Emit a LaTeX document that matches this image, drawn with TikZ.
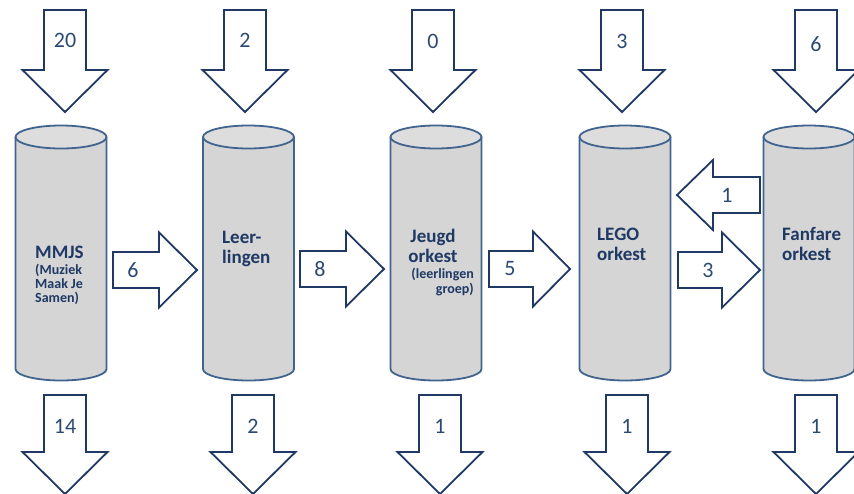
\documentclass[tikz,border=0pt]{standalone}
\usepackage{fontspec}
\setmainfont{Carlito}
\usetikzlibrary{calc}
\definecolor{navy}{HTML}{1F3864}
\definecolor{numcol}{HTML}{2B4A72}
\definecolor{cylline}{HTML}{41648F}
\definecolor{cylfill}{HTML}{D5D5D5}
\definecolor{cyltop}{HTML}{DDDDDD}
\tikzset{
  blockarrow/.style={draw=navy, line width=1.8pt, fill=white, line join=miter},
  cylbody/.style={draw=cylline, line width=1.8pt, fill=cylfill},
  cyltopstyle/.style={draw=cylline, line width=1.8pt, fill=cyltop},
  numlabel/.style={text=numcol, font=\fontsize{22}{24}\selectfont, inner sep=0pt},
  biglabel/.style={text=navy, font=\bfseries\fontsize{19}{20}\selectfont, inner sep=0pt},
  smalllabel/.style={text=navy, font=\bfseries\fontsize{14}{15}\selectfont, inner sep=0pt},
}
% cylinder: #1 name, #2 centre x
\newcommand{\drawcyl}[2]{%
  \coordinate (#1) at (#2,253);
  \draw[cylbody] (#2-45.5,137) -- (#2-45.5,369) arc[start angle=180,end angle=360,x radius=45.5pt,y radius=11.5pt] -- (#2+45.5,137);
  \draw[cyltopstyle] (#2,137) ellipse[x radius=45.5pt,y radius=11.5pt];
}
% down arrow: #1 name, #2 cx, #3 top, #4 head start, #5 tip, #6 label, #7 label y
\newcommand{\dnarrow}[7]{%
  \draw[blockarrow] (#2-21,#3) -- (#2+21,#3) -- (#2+21,#4) -- (#2+42.5,#4) -- (#2,#5) -- (#2-42.5,#4) -- (#2-21,#4) -- cycle;
  \node[numlabel] (#1) at (#2,#7) {#6};
}
% horizontal arrow: #1 name, #2 tail x, #3 head base x, #4 tip x, #5 centre y, #6 head half width, #7 label, #8 label x
\newcommand{\hzarrow}[8]{%
  \draw[blockarrow] (#2,#5-18) -- (#3,#5-18) -- (#3,#5-#6) -- (#4,#5) -- (#3,#5+#6) -- (#3,#5+18) -- (#2,#5+18) -- cycle;
  \node[numlabel] (#1) at (#8,#5) {#7};
}
\begin{document}
\begin{tikzpicture}[x=1pt,y=-1pt]
\useasboundingbox (0,0) rectangle (854,493);
\fill[white] (0,0) rectangle (854,493);

% cylinders
\drawcyl{cmmjs}{61}
\drawcyl{cleer}{248.5}
\drawcyl{cjeugd}{436}
\drawcyl{clego}{625}
\drawcyl{cfan}{809}

% cylinder texts
\node[biglabel, anchor=base west] (mmjs) at (35,258) {MMJS};
\node[smalllabel, anchor=base west] (mmjs2) at (35,274) {(Muziek};
\node[smalllabel, anchor=base west] (mmjs3) at (35,288) {Maak Je};
\node[smalllabel, anchor=base west] (mmjs4) at (35,302) {Samen)};

\node[biglabel, anchor=base west] (leer1) at (222,243) {Leer-};
\node[biglabel, anchor=base west] (leer2) at (222,263) {lingen};

\node[biglabel, anchor=base] (jeugd1) at (433,242) {Jeugd};
\node[biglabel, anchor=base] (jeugd2) at (433,262) {orkest};
\node[smalllabel, anchor=base east] (jeugd3) at (474,278) {(leerlingen};
\node[smalllabel, anchor=base east] (jeugd4) at (474,293) {groep)};

\node[biglabel, anchor=base west] (lego1) at (597,240) {LEGO};
\node[biglabel, anchor=base west] (lego2) at (597,260) {orkest};

\node[biglabel, anchor=base west] (fan1) at (782,240) {Fanfare};
\node[biglabel, anchor=base west] (fan2) at (782,260) {orkest};

% top arrows
\dnarrow{t1}{65}{10}{70}{112}{20}{40}
\dnarrow{t2}{245}{10}{70}{112}{2}{40}
\dnarrow{t3}{433}{10}{70}{112}{0}{41}
\dnarrow{t4}{622}{10}{70}{112}{3}{41}
\dnarrow{t5}{816}{10}{70}{112}{6}{44}

% bottom arrows
\dnarrow{b1}{65}{395}{452}{494}{14}{426}
\dnarrow{b2}{253}{395}{452}{494}{2}{426}
\dnarrow{b3}{440}{395}{452}{494}{1}{426}
\dnarrow{b4}{627}{395}{452}{494}{1}{426}
\dnarrow{b5}{816}{395}{452}{494}{1}{426}

% horizontal arrows
\hzarrow{h1}{113}{159}{197}{270}{37.5}{6}{133}
\hzarrow{h2}{300}{346}{384}{269}{37.5}{8}{320}
\hzarrow{h3}{489}{533}{570}{269}{37.5}{5}{510}
\hzarrow{h4}{678}{722}{760}{270}{37.5}{3}{708}
\hzarrow{h5}{760}{713}{677}{195}{35}{1}{727}
\end{tikzpicture}
\end{document}
